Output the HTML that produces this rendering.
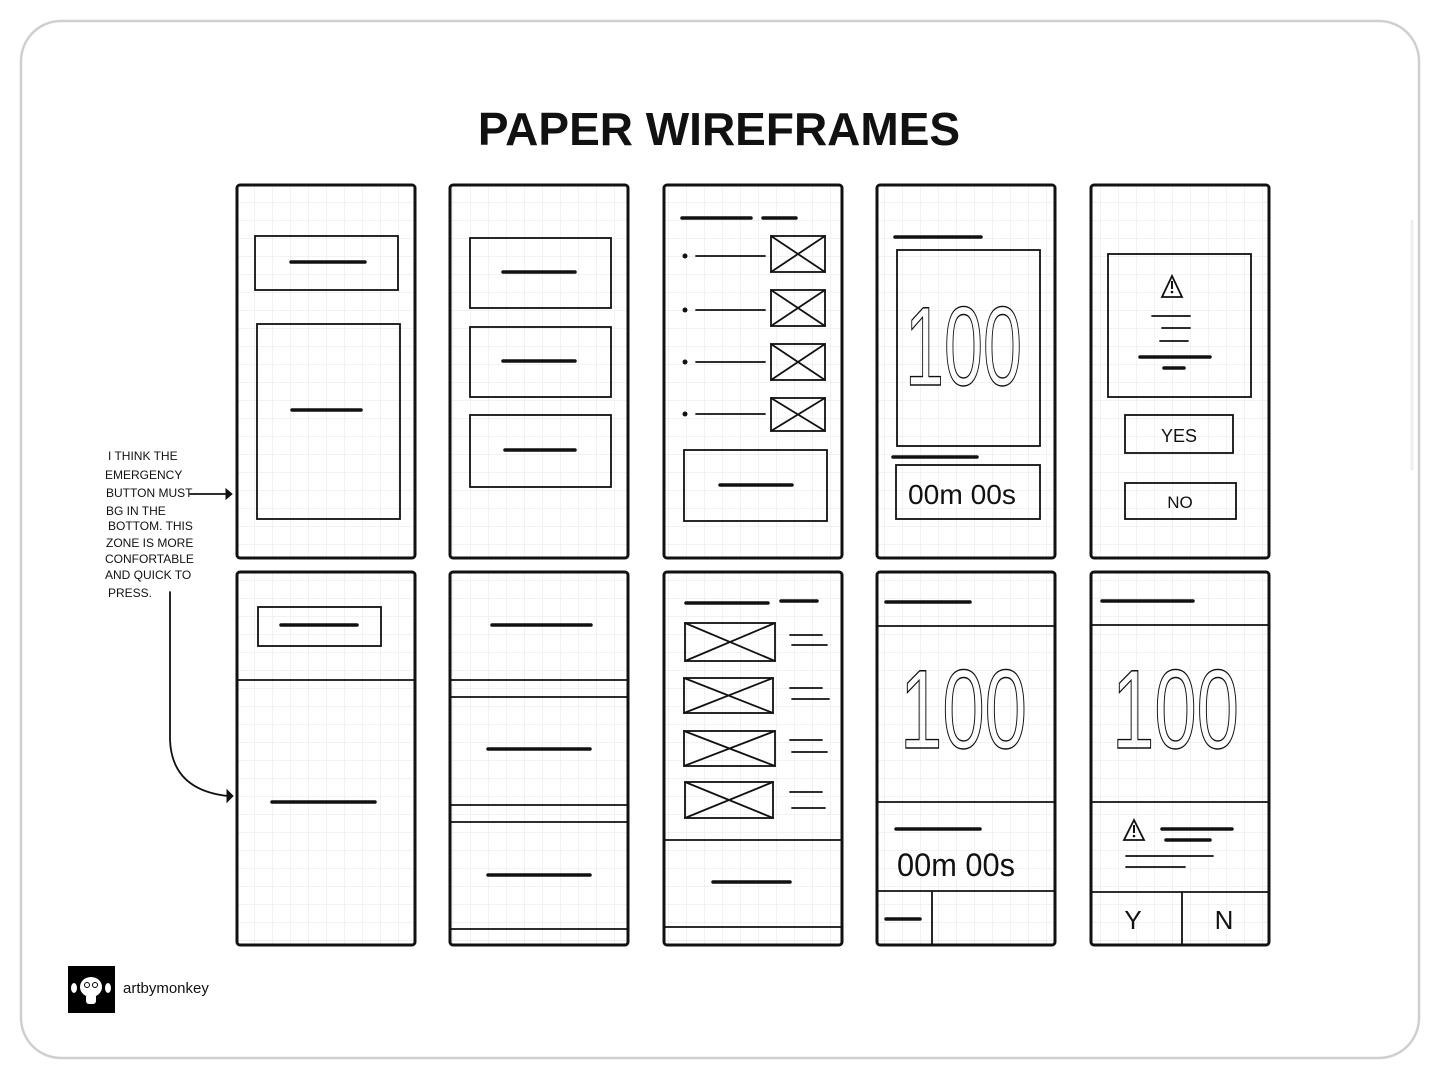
<!DOCTYPE html>
<html><head><meta charset="utf-8"><style>
html,body{margin:0;padding:0;background:#fff;}
svg{display:block}
</style></head><body>
<svg width="1440" height="1080" viewBox="0 0 1440 1080" xmlns="http://www.w3.org/2000/svg">
<defs>
<pattern id="g" x="237" y="185" width="18" height="18" patternUnits="userSpaceOnUse">
<path d="M18 0V18H0" fill="none" stroke="#e6e6e6" stroke-width="1"/>
</pattern>
</defs>
<rect x="0" y="0" width="1440" height="1080" fill="#fff"/>
<rect x="21" y="21" width="1398" height="1037" rx="40" fill="#fff" stroke="#cfcfcf" stroke-width="2.5"/>
<line x1="1412" y1="220" x2="1412" y2="470" stroke="#eee" stroke-width="3"/>
<text x="719" y="145" text-anchor="middle" font-family="Liberation Sans, sans-serif" font-weight="bold" font-size="46" fill="#111">PAPER WIREFRAMES</text>

<g fill="url(#g)" stroke="#111" stroke-width="3">
<rect x="237" y="185" width="178" height="373" rx="3"/>
<rect x="450" y="185" width="178" height="373" rx="3"/>
<rect x="664" y="185" width="178" height="373" rx="3"/>
<rect x="877" y="185" width="178" height="373" rx="3"/>
<rect x="1091" y="185" width="178" height="373" rx="3"/>
<rect x="237" y="572" width="178" height="373" rx="3"/>
<rect x="450" y="572" width="178" height="373" rx="3"/>
<rect x="664" y="572" width="178" height="373" rx="3"/>
<rect x="877" y="572" width="178" height="373" rx="3"/>
<rect x="1091" y="572" width="178" height="373" rx="3"/>
</g>

<g fill="none" stroke="#111" stroke-width="1.8" stroke-linecap="round">
<rect x="255" y="236" width="143" height="54"/>
<rect x="257" y="324" width="143" height="195"/>
<rect x="470" y="238" width="141" height="70"/>
<rect x="470" y="327" width="141" height="70"/>
<rect x="470" y="415" width="141" height="72"/>
<rect x="771" y="236" width="54" height="36"/><path d="M771 236L825 272M825 236L771 272"/>
<rect x="771" y="290" width="54" height="36"/><path d="M771 290L825 326M825 290L771 326"/>
<rect x="771" y="344" width="54" height="36"/><path d="M771 344L825 380M825 344L771 380"/>
<rect x="771" y="398" width="54" height="33"/><path d="M771 398L825 431M825 398L771 431"/>
<path d="M696 256H765M696 310H765M696 362H765M696 414H765"/>
<rect x="684" y="450" width="143" height="71"/>
<rect x="897" y="250" width="143" height="196"/>
<rect x="896" y="465" width="144" height="54"/>
<rect x="1108" y="254" width="143" height="143"/>
<rect x="1125" y="415" width="108" height="38"/>
<rect x="1125" y="483" width="111" height="36"/>
<path d="M1152 316H1190M1162 328H1190M1160 341H1188"/>
<path d="M1172 276L1162 297H1182Z"/>
<rect x="258" y="607" width="123" height="39"/>
<path d="M237 680H415"/>
<path d="M450 680H628M450 697H628M450 805H628M450 822H628M450 929H628"/>
<rect x="685" y="623" width="90" height="38"/><path d="M685 623L775 661M775 623L685 661"/>
<rect x="684" y="678" width="89" height="35"/><path d="M684 678L773 713M773 678L684 713"/>
<rect x="684" y="731" width="91" height="35"/><path d="M684 731L775 766M775 731L684 766"/>
<rect x="685" y="782" width="88" height="36"/><path d="M685 782L773 818M773 782L685 818"/>
<path d="M790 635H822M792 645H827M790 688H822M792 699H829M790 740H822M792 752H827M790 792H822M792 808H825"/>
<path d="M664 840H842M664 927H842"/>
<path d="M877 626H1055M877 802H1055M877 891H1055M932 891V945"/>
<path d="M1091 625H1269M1091 802H1269M1091 892H1269M1182 892V945"/>
<path d="M1134 820L1124 840H1144Z"/>
<path d="M1126 856H1213M1126 867H1185"/>
<path d="M190 494H226"/>
<path d="M170 592V740Q172 790 228 796"/>
</g>
<path d="M226 489L232 494L226 499Z" fill="#111" stroke="#111"/>
<path d="M227 790L233 796L227 802Z" fill="#111" stroke="#111"/>

<g fill="none" stroke="#111" stroke-width="3.5" stroke-linecap="round">
<path d="M291 262H365M292 410H361"/>
<path d="M503 272H575M503 361H575M505 450H575"/>
<path d="M682 218H751M763 218H796M720 485H792"/>
<path d="M895 237H981M893 457H977"/>
<path d="M1140 357H1210M1164 368H1184"/>
<path d="M281 625H357M272 802H375"/>
<path d="M492 625H591M488 749H590M488 875H590"/>
<path d="M686 603H768M781 601H817M713 882H790"/>
<path d="M886 602H970M896 829H980M886 919H920"/>
<path d="M1102 601H1193M1162 829H1232M1166 840H1210"/>
</g>
<g fill="#111"><circle cx="685" cy="256" r="2.5"/><circle cx="685" cy="310" r="2.5"/><circle cx="685" cy="362" r="2.5"/><circle cx="685" cy="414" r="2.5"/>
<rect x="1171" y="281" width="2" height="8"/><circle cx="1172" cy="292" r="1.3"/>
<rect x="1133" y="825" width="2" height="8"/><circle cx="1134" cy="836" r="1.3"/></g>

<g font-family="Liberation Sans, sans-serif" fill="none" stroke="#111" stroke-width="1.4">
<text x="905" y="385" font-size="112" textLength="117" lengthAdjust="spacingAndGlyphs">100</text>
<text x="900" y="748" font-size="112" textLength="127" lengthAdjust="spacingAndGlyphs">100</text>
<text x="1112" y="748" font-size="112" textLength="127" lengthAdjust="spacingAndGlyphs">100</text>
</g>
<g font-family="Liberation Sans, sans-serif" fill="#111">
<text x="908" y="504" font-size="28" textLength="108" lengthAdjust="spacingAndGlyphs">00m 00s</text>
<text x="897" y="876" font-size="32" textLength="118" lengthAdjust="spacingAndGlyphs">00m 00s</text>
<text x="1179" y="442" font-size="18" text-anchor="middle">YES</text>
<text x="1180" y="508" font-size="17" text-anchor="middle">NO</text>
<text x="1133" y="929" font-size="26" text-anchor="middle">Y</text>
<text x="1224" y="929" font-size="26" text-anchor="middle">N</text>
</g>
<g font-family="Liberation Sans, sans-serif" fill="#111" font-size="12">
<text x="108" y="460">I THINK THE</text>
<text x="105" y="479">EMERGENCY</text>
<text x="106" y="497">BUTTON MUST</text>
<text x="106" y="515">BG IN THE</text>
<text x="108" y="530">BOTTOM. THIS</text>
<text x="106" y="547">ZONE IS MORE</text>
<text x="105" y="563">CONFORTABLE</text>
<text x="105" y="579">AND QUICK TO</text>
<text x="108" y="597">PRESS.</text>
</g>

<rect x="68" y="966" width="47" height="47" fill="#000"/>
<ellipse cx="91" cy="987" rx="11" ry="10" fill="#fff"/>
<rect x="86" y="994" width="10" height="10" rx="3" fill="#fff"/>
<ellipse cx="74" cy="988" rx="3" ry="5" fill="#fff"/>
<ellipse cx="108" cy="988" rx="3" ry="5" fill="#fff"/>
<circle cx="87" cy="985" r="2.5" fill="none" stroke="#000"/>
<circle cx="95" cy="985" r="2.5" fill="none" stroke="#000"/>
<text x="123" y="993" font-family="Liberation Sans, sans-serif" font-size="15" fill="#111">artbymonkey</text>
</svg>
</body></html>
